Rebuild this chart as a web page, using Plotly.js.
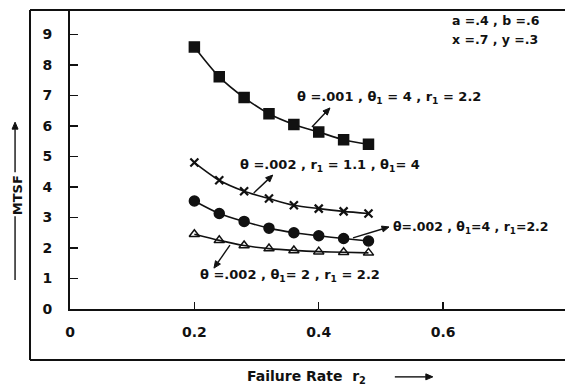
<!DOCTYPE html>
<html>
<head>
<meta charset="utf-8">
<script src="https://cdn.plot.ly/plotly-3.0.1.min.js"></script>
<style>html,body{margin:0;padding:0;background:#fff;}#chart{width:565px;height:392px;}</style>
</head>
<body>
<div id="chart"></div>
<script>
// Failure rate r2 (x values)
const failureRate = [0.20, 0.24, 0.28, 0.32, 0.36, 0.40, 0.44, 0.48];
// MTSF series
const mtsf_t001_t4_r22 = [8.59, 7.61, 6.93, 6.40, 6.05, 5.80, 5.55, 5.40];
const mtsf_t002_r11_t4 = [4.80, 4.22, 3.86, 3.62, 3.40, 3.29, 3.20, 3.13];
const mtsf_t002_t4_r22 = [3.54, 3.13, 2.87, 2.65, 2.50, 2.40, 2.31, 2.23];
const mtsf_t002_t2_r22 = [2.45, 2.25, 2.08, 1.98, 1.92, 1.88, 1.86, 1.84];
// Ticks
const xTicks = [0, 0.2, 0.4, 0.6];
const xTickText = ['0', '0.2', '0.4', '0.6'];
const yTicks = [0, 1, 2, 3, 4, 5, 6, 7, 8, 9];
// Labels
const seriesLabels = [
  'θ =.001 , θ<sub>1</sub> = 4 , r<sub>1</sub> = 2.2',
  'θ =.002 , r<sub>1</sub> = 1.1 , θ<sub>1</sub>= 4',
  'θ=.002 , θ<sub>1</sub>=4 , r<sub>1</sub>=2.2',
  'θ =.002 , θ<sub>1</sub>= 2 , r<sub>1</sub> = 2.2'
];
const paramText = ['a =.4 , b =.6', 'x =.7 , y =.3'];

const FONT = 'DejaVu Sans';
const INK = '#111';

function series(y, symbol, size) {
  return {
    x: failureRate, y: y, type: 'scatter', mode: 'lines+markers',
    line: {color: INK, width: 1.6, shape: 'spline', smoothing: 0.8},
    marker: {symbol: symbol, size: size, color: INK, line: {color: INK, width: 1.5}},
    showlegend: false, hoverinfo: 'skip'
  };
}

const data = [
  series(mtsf_t001_t4_r22, 'square', 10),
  series(mtsf_t002_r11_t4, 'x-thin-open', 8),
  series(mtsf_t002_t4_r22, 'circle', 10),
  series(mtsf_t002_t2_r22, 'triangle-up-open', 9)
];
data[1].marker.line.width = 2.2;

function lbl(text, x, y, size) {
  return {text: '<b>' + text + '</b>', x: x, y: y, xref: 'x', yref: 'y', xanchor: 'left', yanchor: 'middle',
    showarrow: false, font: {family: FONT, size: size || 13, color: INK}};
}

// Arrow drawn as shapes: tip anchored at (x, y); tail offset (ax, ay) in screen pixels (ay down).
function arrowShapes(xref, yref, x, y, ax, ay) {
  const L = 7, W = 3;
  const tx = ax, ty = -ay;               // tail in pixel-mode coords (y up)
  const len = Math.hypot(tx, ty);
  const dx = -tx / len, dy = -ty / len;   // unit direction tail -> tip
  const bx = -dx * L, by = -dy * L;       // base centre of head
  const px = -dy * W, py = dx * W;
  const common = {xref: xref, yref: yref, xsizemode: 'pixel', ysizemode: 'pixel', xanchor: x, yanchor: y};
  return [
    Object.assign({type: 'line', x0: tx, y0: ty, x1: bx, y1: by, line: {color: INK, width: 1.4}}, common),
    Object.assign({type: 'path', path: `M0,0 L${bx + px},${by + py} L${bx - px},${by - py} Z`,
      fillcolor: INK, line: {color: INK, width: 1}}, common)
  ];
}

const annotations = [
  lbl(seriesLabels[0], 0.362, 6.92),
  lbl(seriesLabels[1], 0.270, 4.69),
  lbl(seriesLabels[2], 0.516, 2.66, 12.5),
  lbl(seriesLabels[3], 0.206, 1.11),
  lbl(paramText[0], 0.611, 9.47, 12.5),
  lbl(paramText[1], 0.611, 8.82, 12.5),
  // y title
  {text: '<b>MTSF</b>', xref: 'paper', yref: 'paper', x: -0.126, y: 0.381, textangle: -90,
   showarrow: false, font: {family: FONT, size: 13, color: INK}},
  // x title
  {text: '<b>Failure Rate  r<sub>2</sub></b>', xref: 'paper', yref: 'paper', x: 0.354, y: -0.227,
   xanchor: 'left', yanchor: 'middle', showarrow: false, font: {family: FONT, size: 14, color: INK}}
];

const shapes = [
  // outer frame: top, left, bottom
  {type: 'line', xref: 'paper', yref: 'paper', x0: -0.0808, x1: 1.01, y0: 1, y1: 1, line: {color: INK, width: 2}},
  {type: 'line', xref: 'paper', yref: 'paper', x0: -0.0808, x1: -0.0808, y0: 1, y1: -0.1706, line: {color: INK, width: 2}},
  {type: 'line', xref: 'paper', yref: 'paper', x0: -0.0808, x1: 1.01, y0: -0.1706, y1: -0.1706, line: {color: INK, width: 2}},
  // lower line of y title
  {type: 'line', xref: 'paper', yref: 'paper', x0: -0.111, x1: -0.111, y0: 0.097, y1: 0.31, line: {color: INK, width: 1.4}}
].concat(
  arrowShapes('x', 'y', 0.418, 6.59, -18, 19),
  arrowShapes('x', 'y', 0.326, 4.39, -19, 18),
  arrowShapes('x', 'y', 0.513, 2.69, -36, 11),
  arrowShapes('x', 'y', 0.2315, 1.34, 16, -23),
  arrowShapes('paper', 'paper', -0.111, 0.625, 0, 50),
  arrowShapes('paper', 'paper', 0.733, -0.227, -38, 0)
);

const layout = {
  width: 565, height: 392,
  margin: {l: 70, r: 0, t: 10, b: 83, pad: 0},
  paper_bgcolor: '#fff', plot_bgcolor: '#fff',
  xaxis: {range: [0, 0.796], tickvals: xTicks, ticktext: xTickText.map(t => '<b>' + t + '</b>'), ticks: 'inside', ticklen: 7,
    tickwidth: 1.5, tickcolor: INK, showline: true, linecolor: INK, linewidth: 2, showgrid: false,
    zeroline: false, ticklabelstandoff: 9, tickfont: {family: FONT, size: 14, color: INK}},
  yaxis: {range: [0, 9.80], tickvals: yTicks, ticktext: yTicks.map(t => '<b>' + t + '</b>'), ticks: 'inside', ticklen: 8, tickwidth: 1.5,
    tickcolor: INK, showline: true, linecolor: INK, linewidth: 2, showgrid: false, zeroline: false,
    ticklabelstandoff: 13, tickfont: {family: FONT, size: 14, color: INK}},
  annotations: annotations,
  shapes: shapes,
  showlegend: false
};

Plotly.newPlot('chart', data, layout, {staticPlot: true, displayModeBar: false});
</script>
</body>
</html>
